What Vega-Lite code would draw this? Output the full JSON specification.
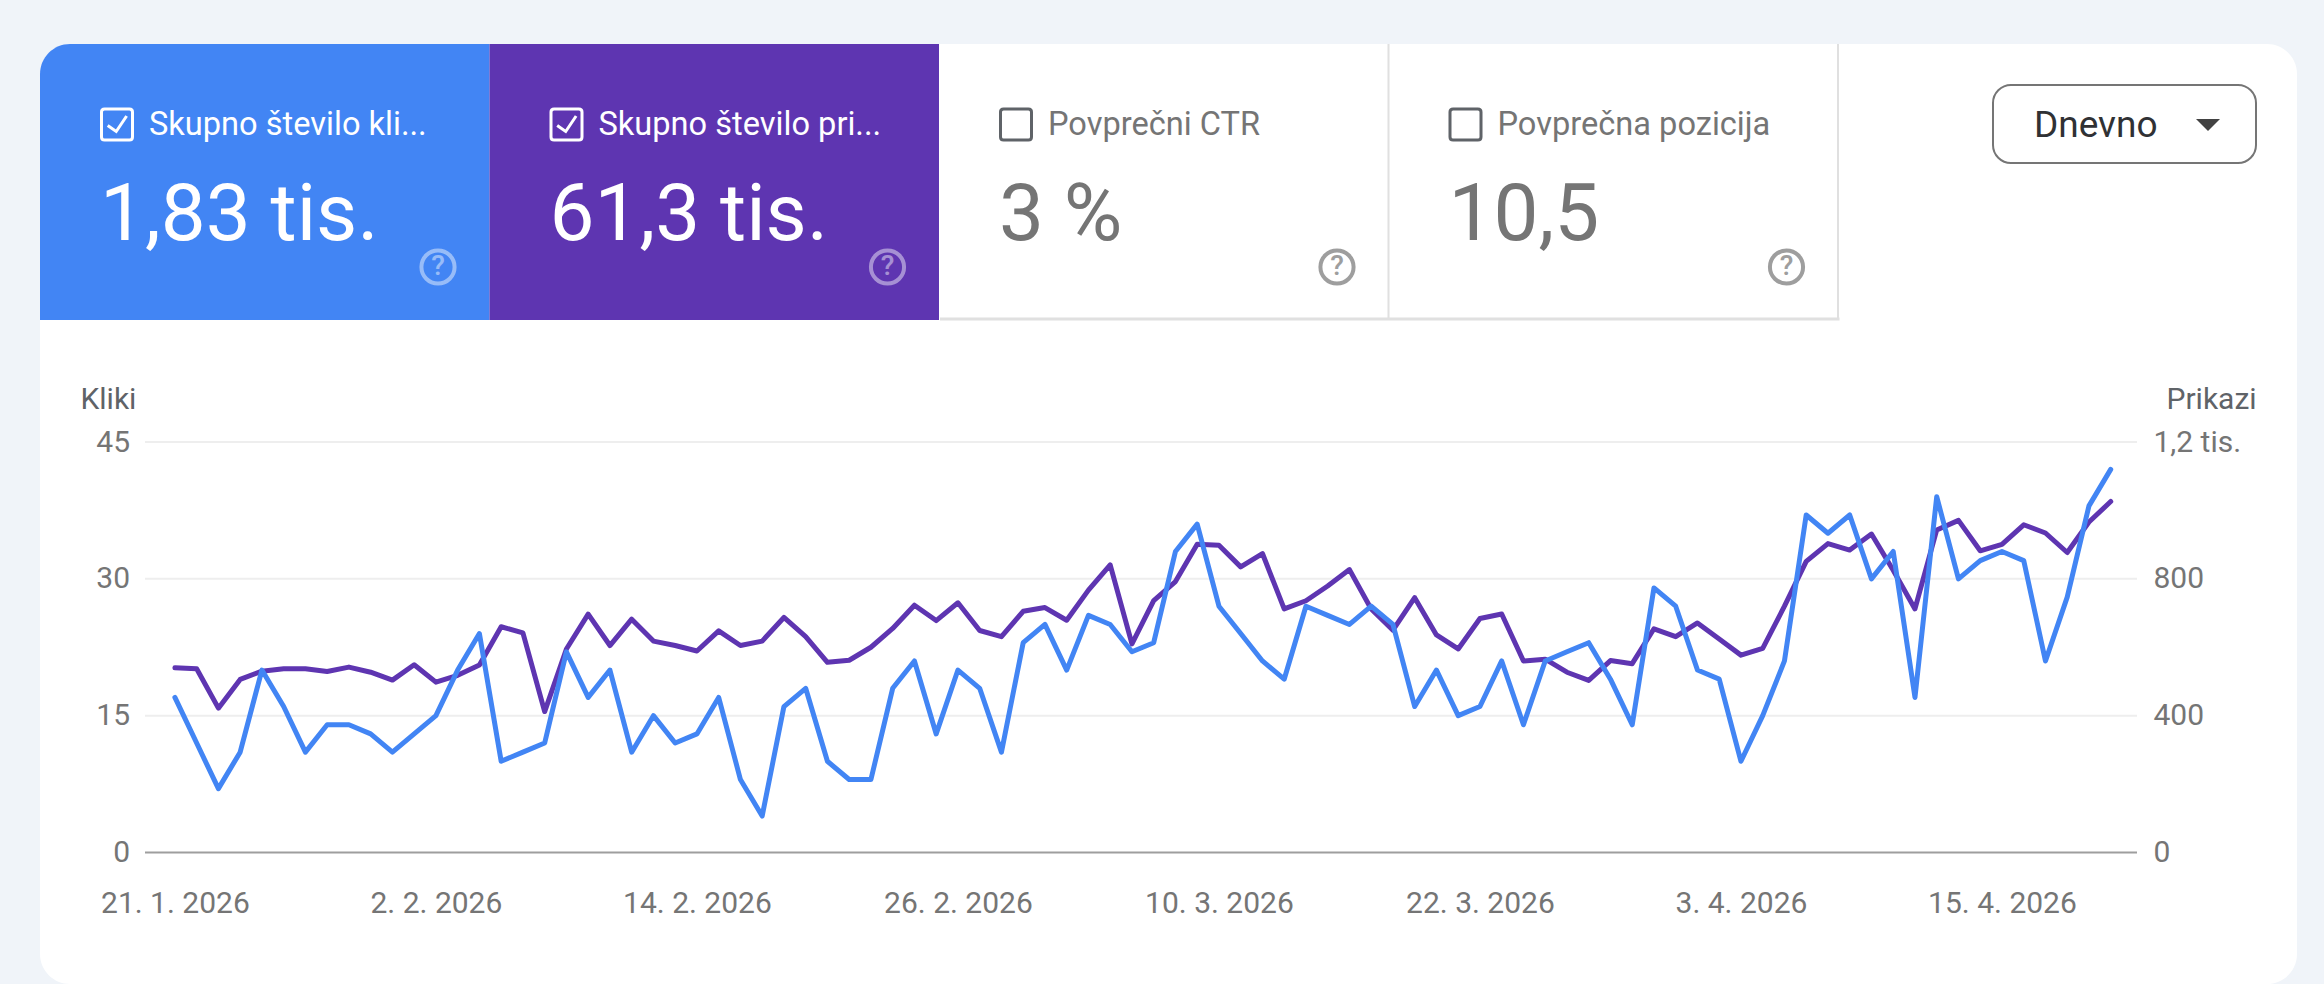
{"$schema":"https://vega.github.io/schema/vega-lite/v6.json","autosize":"none","width":2257,"height":940,"padding":{"left":40,"top":44,"right":27,"bottom":0},"background":"#f0f4f9","view":{"fill":"#ffffff","stroke":null,"cornerRadius":30},"config":{"font":"Roboto"},
"datasets":{
"plosce":[{"plosca":"Skupno število klikov","naslov":"Skupno število kli...","vrednost":"1,83 tis.","stanje":"izbrano"},{"plosca":"Skupno število prikazov","naslov":"Skupno število pri...","vrednost":"61,3 tis.","stanje":"izbrano"},{"plosca":"Povprečni CTR","naslov":"Povprečni CTR","vrednost":"3 %","stanje":"neizbrano"},{"plosca":"Povprečna pozicija","naslov":"Povprečna pozicija","vrednost":"10,5","stanje":"neizbrano"}],
"dnevi":[
{"datum":"2026-01-21","kliki":17,"prikazi":540},{"datum":"2026-01-22","kliki":12,"prikazi":537},{"datum":"2026-01-23","kliki":7,"prikazi":422},{"datum":"2026-01-24","kliki":11,"prikazi":506},{"datum":"2026-01-25","kliki":20,"prikazi":530},{"datum":"2026-01-26","kliki":16,"prikazi":537},{"datum":"2026-01-27","kliki":11,"prikazi":537},{"datum":"2026-01-28","kliki":14,"prikazi":529},{"datum":"2026-01-29","kliki":14,"prikazi":542},{"datum":"2026-01-30","kliki":13,"prikazi":527},{"datum":"2026-01-31","kliki":11,"prikazi":504},
{"datum":"2026-02-01","kliki":13,"prikazi":549},{"datum":"2026-02-02","kliki":15,"prikazi":498},{"datum":"2026-02-03","kliki":20,"prikazi":518},{"datum":"2026-02-04","kliki":24,"prikazi":548},{"datum":"2026-02-05","kliki":10,"prikazi":660},{"datum":"2026-02-06","kliki":11,"prikazi":642},{"datum":"2026-02-07","kliki":12,"prikazi":412},{"datum":"2026-02-08","kliki":22,"prikazi":595},{"datum":"2026-02-09","kliki":17,"prikazi":697},{"datum":"2026-02-10","kliki":20,"prikazi":605},{"datum":"2026-02-11","kliki":11,"prikazi":682},{"datum":"2026-02-12","kliki":15,"prikazi":618},{"datum":"2026-02-13","kliki":12,"prikazi":605},{"datum":"2026-02-14","kliki":13,"prikazi":589},{"datum":"2026-02-15","kliki":17,"prikazi":648},{"datum":"2026-02-16","kliki":8,"prikazi":605},{"datum":"2026-02-17","kliki":4,"prikazi":618},{"datum":"2026-02-18","kliki":16,"prikazi":687},{"datum":"2026-02-19","kliki":18,"prikazi":631},{"datum":"2026-02-20","kliki":10,"prikazi":556},{"datum":"2026-02-21","kliki":8,"prikazi":562},{"datum":"2026-02-22","kliki":8,"prikazi":600},{"datum":"2026-02-23","kliki":18,"prikazi":655},{"datum":"2026-02-24","kliki":21,"prikazi":723},{"datum":"2026-02-25","kliki":13,"prikazi":678},{"datum":"2026-02-26","kliki":20,"prikazi":730},{"datum":"2026-02-27","kliki":18,"prikazi":649},{"datum":"2026-02-28","kliki":11,"prikazi":631},
{"datum":"2026-03-01","kliki":23,"prikazi":705},{"datum":"2026-03-02","kliki":25,"prikazi":716},{"datum":"2026-03-03","kliki":20,"prikazi":679},{"datum":"2026-03-04","kliki":26,"prikazi":767},{"datum":"2026-03-05","kliki":25,"prikazi":841},{"datum":"2026-03-06","kliki":22,"prikazi":610},{"datum":"2026-03-07","kliki":23,"prikazi":736},{"datum":"2026-03-08","kliki":33,"prikazi":792},{"datum":"2026-03-09","kliki":36,"prikazi":901},{"datum":"2026-03-10","kliki":27,"prikazi":898},{"datum":"2026-03-11","kliki":24,"prikazi":835},{"datum":"2026-03-12","kliki":21,"prikazi":874},{"datum":"2026-03-13","kliki":19,"prikazi":712},{"datum":"2026-03-14","kliki":27,"prikazi":736},{"datum":"2026-03-15","kliki":26,"prikazi":779},{"datum":"2026-03-16","kliki":25,"prikazi":827},{"datum":"2026-03-17","kliki":27,"prikazi":712},{"datum":"2026-03-18","kliki":25,"prikazi":650},{"datum":"2026-03-19","kliki":16,"prikazi":745},{"datum":"2026-03-20","kliki":20,"prikazi":636},{"datum":"2026-03-21","kliki":15,"prikazi":595},{"datum":"2026-03-22","kliki":16,"prikazi":684},{"datum":"2026-03-23","kliki":21,"prikazi":697},{"datum":"2026-03-24","kliki":14,"prikazi":560},{"datum":"2026-03-25","kliki":21,"prikazi":565},{"datum":"2026-03-26","kliki":22,"prikazi":527},{"datum":"2026-03-27","kliki":23,"prikazi":503},{"datum":"2026-03-28","kliki":19,"prikazi":561},{"datum":"2026-03-29","kliki":14,"prikazi":552},{"datum":"2026-03-30","kliki":29,"prikazi":654},{"datum":"2026-03-31","kliki":27,"prikazi":631},
{"datum":"2026-04-01","kliki":20,"prikazi":671},{"datum":"2026-04-02","kliki":19,"prikazi":624},{"datum":"2026-04-03","kliki":10,"prikazi":577},{"datum":"2026-04-04","kliki":15,"prikazi":597},{"datum":"2026-04-05","kliki":21,"prikazi":720},{"datum":"2026-04-06","kliki":37,"prikazi":851},{"datum":"2026-04-07","kliki":35,"prikazi":903},{"datum":"2026-04-08","kliki":37,"prikazi":884},{"datum":"2026-04-09","kliki":30,"prikazi":931},{"datum":"2026-04-10","kliki":33,"prikazi":825},{"datum":"2026-04-11","kliki":17,"prikazi":712},{"datum":"2026-04-12","kliki":39,"prikazi":943},{"datum":"2026-04-13","kliki":30,"prikazi":971},{"datum":"2026-04-14","kliki":32,"prikazi":882},{"datum":"2026-04-15","kliki":33,"prikazi":901},{"datum":"2026-04-16","kliki":32,"prikazi":958},{"datum":"2026-04-17","kliki":21,"prikazi":934},{"datum":"2026-04-18","kliki":28,"prikazi":877},{"datum":"2026-04-19","kliki":38,"prikazi":966},{"datum":"2026-04-20","kliki":42,"prikazi":1026}],
"mreza":[{"kliki":45,"vrsta":"mreza"},{"kliki":30,"vrsta":"mreza"},{"kliki":15,"vrsta":"mreza"},{"kliki":0,"vrsta":"os"}]},
"resolve":{"scale":{"x":"independent","y":"independent"},"axis":{"x":"independent","y":"independent"}},
"layer":[
{"data":{"name":"plosce"},"encoding":{"x":{"field":"plosca","type":"nominal","bandPosition":0,"sort":null,"scale":{"type":"band","domain":["Skupno število klikov","Skupno število prikazov","Povprečni CTR","Povprečna pozicija"],"range":[0,1798],"paddingInner":0,"paddingOuter":0},"axis":null}},
"layer":[
{"transform":[{"filter":"datum.plosca=='Skupno število klikov'"}],"mark":{"type":"rect","fill":"#4285f4","cornerRadiusTopLeft":30},"encoding":{"x":{"field":"plosca","type":"nominal","sort":null,"axis":null},"y":{"datum":0,"type":"quantitative","scale":{"domain":[0,940],"range":[0,940]},"axis":null},"y2":{"datum":276}}},
{"transform":[{"filter":"datum.plosca=='Skupno število prikazov'"}],"mark":{"type":"rect","fill":"#5e35b1"},"encoding":{"x":{"field":"plosca","type":"nominal","sort":null,"axis":null},"y":{"datum":0,"type":"quantitative","scale":{"domain":[0,940],"range":[0,940]},"axis":null},"y2":{"datum":276}}},
{"transform":[{"filter":"datum.stanje=='neizbrano'"}],"mark":{"type":"rule","stroke":"#e0e0e0","strokeWidth":2},"encoding":{"y":{"datum":0,"type":"quantitative","scale":{"domain":[0,940],"range":[0,940]},"axis":null},"y2":{"datum":276},"x":{"field":"plosca","type":"nominal","bandPosition":1,"sort":null,"axis":null}}},
{"transform":[{"filter":"datum.stanje=='izbrano'"}],"mark":{"type":"point","filled":false,"stroke":"#ffffff","strokeWidth":3,"opacity":1,"xOffset":77,"size":961,"shape":"M-0.8,-1H0.8Q1,-1 1,-0.8V0.8Q1,1 0.8,1H-0.8Q-1,1 -1,0.8V-0.8Q-1,-1 -0.8,-1Z"},"encoding":{"y":{"datum":80.5,"type":"quantitative","scale":{"domain":[0,940],"range":[0,940]},"axis":null}}},
{"transform":[{"filter":"datum.stanje=='izbrano'"}],"mark":{"type":"point","filled":false,"stroke":"#ffffff","strokeWidth":3,"opacity":1,"xOffset":77,"size":961,"shape":"M-0.6,0.06L-0.05,0.45L0.62,-0.55"},"encoding":{"y":{"datum":80.5,"type":"quantitative","scale":{"domain":[0,940],"range":[0,940]},"axis":null}}},
{"transform":[{"filter":"datum.stanje=='neizbrano'"}],"mark":{"type":"point","filled":false,"stroke":"#5f6368","strokeWidth":3,"opacity":1,"xOffset":77,"size":961,"shape":"M-0.8,-1H0.8Q1,-1 1,-0.8V0.8Q1,1 0.8,1H-0.8Q-1,1 -1,0.8V-0.8Q-1,-1 -0.8,-1Z"},"encoding":{"y":{"datum":80.5,"type":"quantitative","scale":{"domain":[0,940],"range":[0,940]},"axis":null}}},
{"mark":{"type":"text","align":"left","baseline":"alphabetic","dx":109,"fontSize":32.6},"encoding":{"text":{"field":"naslov"},"y":{"datum":91,"type":"quantitative","scale":{"domain":[0,940],"range":[0,940]},"axis":null},"color":{"condition":{"test":"datum.stanje=='izbrano'","value":"#ffffff"},"value":"#757575"}}},
{"mark":{"type":"text","align":"left","baseline":"alphabetic","dx":60,"fontSize":80,"fontWeight":400},"encoding":{"text":{"field":"vrednost"},"y":{"datum":196,"type":"quantitative","scale":{"domain":[0,940],"range":[0,940]},"axis":null},"color":{"condition":{"test":"datum.stanje=='izbrano'","value":"#ffffff"},"value":"#757575"}}},
{"mark":{"type":"point","filled":false,"strokeWidth":4,"xOffset":398,"size":1100,"shape":"circle"},"encoding":{"y":{"datum":223,"type":"quantitative","scale":{"domain":[0,940],"range":[0,940]},"axis":null},"stroke":{"condition":{"test":"datum.stanje=='izbrano'","value":"#ffffff"},"value":"#9e9e9e"},"opacity":{"condition":{"test":"datum.stanje=='izbrano'","value":0.45},"value":1}}},
{"mark":{"type":"text","text":"?","align":"center","baseline":"middle","dx":398,"fontSize":28,"fontWeight":500},"encoding":{"y":{"datum":223,"type":"quantitative","scale":{"domain":[0,940],"range":[0,940]},"axis":null},"color":{"condition":{"test":"datum.stanje=='izbrano'","value":"#ffffff"},"value":"#9e9e9e"},"opacity":{"condition":{"test":"datum.stanje=='izbrano'","value":0.45},"value":1}}}
]},
{"data":{"values":[{"nadzor":"Dnevno"}]},"encoding":{"x":{"datum":1953,"type":"quantitative","scale":{"domain":[0,2257],"range":[0,2257]},"axis":null},"y":{"datum":41,"type":"quantitative","scale":{"domain":[0,940],"range":[0,940]},"axis":null}},
"layer":[
{"mark":{"type":"rule","stroke":"#e0e0e0","strokeWidth":3},"encoding":{"x":{"datum":900,"type":"quantitative"},"x2":{"datum":1799.5},"y":{"datum":275,"type":"quantitative"}}},
{"mark":{"type":"rect","fill":"#ffffff","stroke":"#757575","strokeWidth":2,"cornerRadius":18},"encoding":{"x2":{"datum":2216},"y2":{"datum":119}}},
{"mark":{"type":"text","align":"left","baseline":"alphabetic","fontSize":37,"fontWeight":400,"color":"#303134"},"encoding":{"text":{"field":"nadzor"},"x":{"datum":1994,"type":"quantitative"},"y":{"datum":92.5,"type":"quantitative"}}},
{"mark":{"type":"point","filled":true,"color":"#424242","opacity":1,"size":576,"shape":"M-1,-0.5L1,-0.5L0,0.5Z"},"encoding":{"x":{"datum":2168,"type":"quantitative"},"y":{"datum":81,"type":"quantitative"}}}
]},
{"data":{"name":"mreza"},"mark":{"type":"rule","strokeWidth":2},"encoding":{"x":{"datum":{"year":2026,"month":1,"date":19,"hours":15,"utc":true},"type":"temporal","scale":{"type":"utc","domain":[{"year":2026,"month":1,"date":19,"hours":15,"utc":true},{"year":2026,"month":4,"date":21,"hours":5,"utc":true}],"range":[105,2097]},"axis":{"values":[{"year":2026,"month":1,"date":21,"utc":true},{"year":2026,"month":2,"date":2,"utc":true},{"year":2026,"month":2,"date":14,"utc":true},{"year":2026,"month":2,"date":26,"utc":true},{"year":2026,"month":3,"date":10,"utc":true},{"year":2026,"month":3,"date":22,"utc":true},{"year":2026,"month":4,"date":3,"utc":true},{"year":2026,"month":4,"date":15,"utc":true}],"format":"%-d. %-m. %Y","title":null,"grid":false,"domain":false,"ticks":false,"labelPadding":0,"labelBaseline":"middle","labelFontSize":30,"labelColor":"#757575","labelOverlap":false,"labelFlush":false,"offset":-81}},"x2":{"datum":{"year":2026,"month":4,"date":21,"hours":5,"utc":true}},"y":{"field":"kliki","type":"quantitative","scale":{"domain":[0,45],"range":[808.5,398]},"axis":{"orient":"left","values":[0,15,30,45],"title":"Kliki","titleAngle":0,"titleAlign":"left","titleBaseline":"alphabetic","titleX":-49.6,"titleY":364.6,"titleFontSize":30,"titleFontWeight":400,"titleColor":"#5f6368","grid":false,"domain":false,"ticks":false,"labelPadding":0,"labelFontSize":30,"labelColor":"#757575","offset":-89.6}},"color":{"field":"vrsta","type":"nominal","scale":{"domain":["mreza","os"],"range":["#eeeeee","#9e9e9e"]},"legend":null}}},
{"data":{"name":"dnevi"},"mark":{"type":"line","color":"#5e35b1","strokeWidth":5,"strokeJoin":"round","strokeCap":"round"},"encoding":{"x":{"field":"datum","type":"temporal","scale":{"type":"utc","domain":[{"year":2026,"month":1,"date":19,"hours":15,"utc":true},{"year":2026,"month":4,"date":21,"hours":5,"utc":true}],"range":[105,2097]},"axis":null},"y":{"field":"prikazi","type":"quantitative","scale":{"domain":[0,1200],"range":[808.5,398]},"axis":{"orient":"right","values":[0,400,800,1200],"labelExpr":"datum.value>=1000?replace(format(datum.value/1000,'.1f'),'.',',')+' tis.':datum.label","title":"Prikazi","titleAngle":0,"titleAlign":"left","titleBaseline":"alphabetic","titleX":13,"titleY":364.6,"titleFontSize":30,"titleFontWeight":400,"titleColor":"#5f6368","grid":false,"domain":false,"ticks":false,"labelPadding":0,"labelFontSize":30,"labelColor":"#757575","offset":-144}}}},
{"data":{"name":"dnevi"},"mark":{"type":"line","color":"#4285f4","strokeWidth":5,"strokeJoin":"round","strokeCap":"round"},"encoding":{"x":{"field":"datum","type":"temporal","scale":{"type":"utc","domain":[{"year":2026,"month":1,"date":19,"hours":15,"utc":true},{"year":2026,"month":4,"date":21,"hours":5,"utc":true}],"range":[105,2097]},"axis":null},"y":{"field":"kliki","type":"quantitative","scale":{"domain":[0,45],"range":[808.5,398]},"axis":null}}}
]}
